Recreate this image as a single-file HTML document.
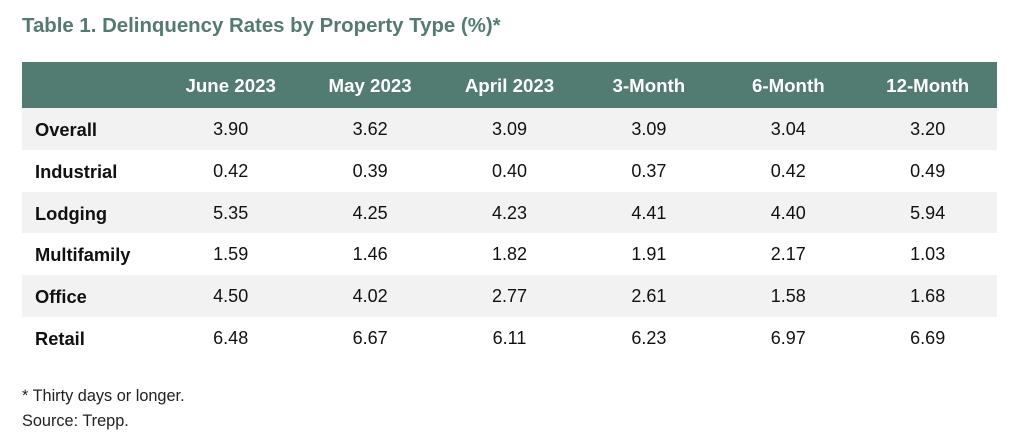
<!DOCTYPE html>
<html>
<head>
<meta charset="utf-8">
<style>
  html, body { margin:0; padding:0; background:#ffffff; }
  body { width:1024px; height:446px; position:relative; overflow:hidden; font-family:"Liberation Sans", Arial, sans-serif; }
  .title { position:absolute; left:22px; top:14.5px; font-size:20.4px; line-height:23px; font-weight:bold; color:#527c71; white-space:nowrap; }
  .hdr { position:absolute; left:22px; top:62px; width:975px; height:46.3px; background:#527b71; }
  .row { position:absolute; left:22px; width:975px; height:41.7px; }
  .gray { background:#f2f2f2; }
  .c { position:absolute; top:0; height:100%; text-align:center; white-space:nowrap; }
  .hdr .c { color:#ffffff; font-weight:bold; font-size:18.7px; line-height:47.5px; }
  .row .c { color:#111; font-size:18px; line-height:43.5px; }
  .row .lab { position:absolute; left:13px; top:0; font-weight:bold; font-size:18.3px; line-height:43px; color:#111; white-space:nowrap; }
  .c1 { left:139px; width:139.4px; }
  .c2 { left:278.4px; width:139.4px; }
  .c3 { left:417.8px; width:139.4px; }
  .c4 { left:557.2px; width:139.4px; }
  .c5 { left:696.6px; width:139.4px; }
  .c6 { left:836px; width:139.4px; }
  .foot { position:absolute; left:22px; font-size:16.3px; line-height:18.4px; color:#222; white-space:nowrap; }
</style>
</head>
<body>
  <div class="title">Table 1. Delinquency Rates by Property Type (%)*</div>

  <div class="hdr">
    <div class="c c1">June 2023</div>
    <div class="c c2">May 2023</div>
    <div class="c c3">April 2023</div>
    <div class="c c4">3-Month</div>
    <div class="c c5">6-Month</div>
    <div class="c c6">12-Month</div>
  </div>

  <div class="row gray" style="top:108.3px;">
    <div class="lab">Overall</div>
    <div class="c c1">3.90</div><div class="c c2">3.62</div><div class="c c3">3.09</div>
    <div class="c c4">3.09</div><div class="c c5">3.04</div><div class="c c6">3.20</div>
  </div>
  <div class="row" style="top:150px;">
    <div class="lab">Industrial</div>
    <div class="c c1">0.42</div><div class="c c2">0.39</div><div class="c c3">0.40</div>
    <div class="c c4">0.37</div><div class="c c5">0.42</div><div class="c c6">0.49</div>
  </div>
  <div class="row gray" style="top:191.7px;">
    <div class="lab">Lodging</div>
    <div class="c c1">5.35</div><div class="c c2">4.25</div><div class="c c3">4.23</div>
    <div class="c c4">4.41</div><div class="c c5">4.40</div><div class="c c6">5.94</div>
  </div>
  <div class="row" style="top:233.3px;">
    <div class="lab">Multifamily</div>
    <div class="c c1">1.59</div><div class="c c2">1.46</div><div class="c c3">1.82</div>
    <div class="c c4">1.91</div><div class="c c5">2.17</div><div class="c c6">1.03</div>
  </div>
  <div class="row gray" style="top:275px;">
    <div class="lab">Office</div>
    <div class="c c1">4.50</div><div class="c c2">4.02</div><div class="c c3">2.77</div>
    <div class="c c4">2.61</div><div class="c c5">1.58</div><div class="c c6">1.68</div>
  </div>
  <div class="row" style="top:316.7px;">
    <div class="lab">Retail</div>
    <div class="c c1">6.48</div><div class="c c2">6.67</div><div class="c c3">6.11</div>
    <div class="c c4">6.23</div><div class="c c5">6.97</div><div class="c c6">6.69</div>
  </div>

  <div class="foot" style="top:386.5px;">* Thirty days or longer.</div>
  <div class="foot" style="top:411.5px;">Source: Trepp.</div>
</body>
</html>
